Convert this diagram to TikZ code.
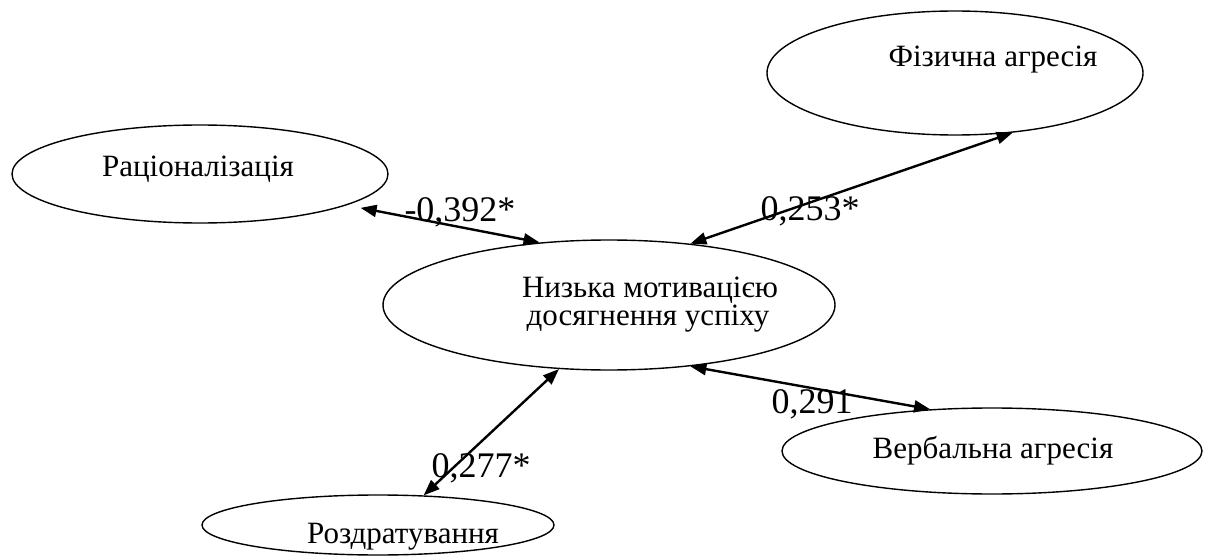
\documentclass[tikz,border=0pt]{standalone}
\usepackage{fontspec}
\setmainfont{Liberation Serif}
\usetikzlibrary{shapes.geometric,arrows.meta}
\tikzset{
  oval/.style={draw, ellipse, line width=1.4pt, inner sep=0pt},
  txt/.style={anchor=base, inner sep=0pt, font=\fontsize{31}{29}\selectfont},
  coef/.style={anchor=base, inner sep=0pt, font=\fontsize{36}{40}\selectfont},
  link/.style={line width=2.4pt, {Triangle[length=16pt,width=12pt]}-{Triangle[length=16pt,width=12pt]}}
}
\begin{document}
\begin{tikzpicture}[x=1pt,y=-1pt]
\useasboundingbox (0,0) rectangle (1227,559);
\clip (0,0) rectangle (1227,559);
% ellipses
\node[oval, minimum width=376pt, minimum height=124pt] (F) at (955,73) {};
\node[oval, minimum width=376pt, minimum height=98pt] (R) at (200,174) {};
\node[oval, minimum width=452pt, minimum height=130pt] (C) at (609,305) {};
\node[oval, minimum width=420pt, minimum height=86pt] (V) at (992,451) {};
\node[oval, minimum width=352pt, minimum height=60pt] (D) at (378,525) {};
% texts
\node[txt] (tF) at (993,67) {Фізична агресія};
\node[txt] (tR) at (198,177) {Раціоналізація};
\node[txt] (tC1) at (650,297) {Низька мотивацією};
\node[txt] (tC2) at (648,325) {досягнення успіху};
\node[txt] (tV) at (993,458) {Вербальна агресія};
\node[txt] (tD) at (403,543) {Роздратування};
% connectors
\draw[link, shorten <=14pt] (R.-12.9) -- (C.138.4);
\draw[link] (F.-46.9) -- (C.37.1);
\draw[link] (C.-37.7) -- (V.146.5);
\draw[link] (C.-128.7) -- (D.33.7);
% coefficients
\node[coef] (l1) at (460,222) {-0,392*};
\node[coef] (l2) at (810,220) {0,253*};
\node[coef] (l3) at (812,413) {0,291};
\node[coef] (l4) at (481,477) {0,277*};
\end{tikzpicture}
\end{document}
